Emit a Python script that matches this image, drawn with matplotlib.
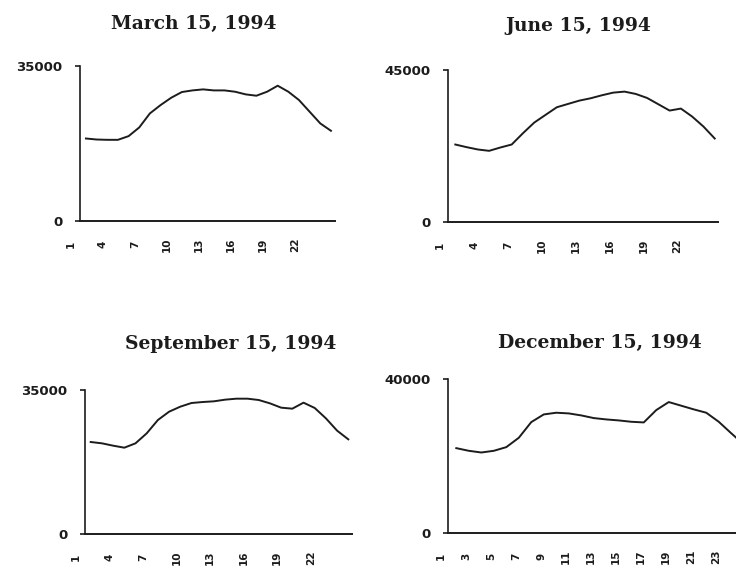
import matplotlib
matplotlib.use("Agg")
import matplotlib.pyplot as plt
import matplotlib.transforms as mtransforms

hours = list(range(1, 25))

titles = ["March 15, 1994", "June 15, 1994", "September 15, 1994", "December 15, 1994"]
ymax = [35000, 45000, 35000, 40000]

march = [18630, 18400, 18330, 18330, 19160, 21120, 24290, 26170, 27830, 29120,
         29490, 29720, 29490, 29490, 29190, 28590, 28290, 29190, 30550, 29190,
         27310, 24670, 22030, 20370]
june = [22940, 22160, 21470, 21070, 22060, 22940, 26290, 29440, 31710, 33970,
        34960, 35940, 36630, 37520, 38300, 38600, 37910, 36730, 34860, 32990,
        33580, 31210, 28260, 24720]
september = [22360, 22040, 21470, 20980, 22040, 24470, 27710, 29730, 30950, 31840,
             32080, 32250, 32650, 32890, 32890, 32570, 31760, 30710, 30460, 31920,
             30630, 28110, 25120, 23010]
december = [22040, 21350, 20910, 21350, 22300, 24730, 28810, 30800, 31240, 31060,
            30540, 29850, 29500, 29240, 28890, 28720, 31930, 34010, 33060, 32110,
            31240, 28890, 25900, 23000]
series = [march, june, september, december]

xticks_a = [1, 4, 7, 10, 13, 16, 19, 22]
xticks_b = [1, 3, 5, 7, 9, 11, 13, 15, 17, 19, 21, 23]
xtick_sets = [xticks_a, xticks_a, xticks_a, xticks_b]

W, H = 736, 570
fig = plt.figure(figsize=(W / 100, H / 100), dpi=100)
fig.patch.set_facecolor("white")

# pixel boxes: left, right, top, bottom
boxes = [(80, 335, 66, 221), (448, 718, 70, 222), (85, 352, 390, 534), (448, 748, 379, 533)]
xlims = [(0.44, 24.38), (0.353, 24.29), (0.49, 24.33), (0.336, 24.34)]
title_pos = [(194, 29), (578, 31), (231, 349), (600, 348)]

ink = "#1c1c1c"
for i in range(4):
    l, r, t, b = boxes[i]
    ax = fig.add_axes([l / W, 1 - b / H, (r - l) / W, (b - t) / H])
    ax.plot(hours, series[i], color=ink, lw=1.4, solid_joinstyle="round")
    ax.set_xlim(*xlims[i])
    ax.set_ylim(0, ymax[i])
    for s in ["top", "right"]:
        ax.spines[s].set_visible(False)
    ax.spines["left"].set_linewidth(1.2)
    ax.spines["bottom"].set_linewidth(1.4)
    ax.spines["left"].set_color(ink)
    ax.spines["bottom"].set_color(ink)
    ax.set_yticks([0, ymax[i]])
    ax.set_yticklabels(["0", str(ymax[i])])
    ax.tick_params(axis="y", length=3.6, width=1.2, color=ink, pad=9,
                   labelsize=9.5, labelcolor=ink)
    for lab in ax.get_yticklabels():
        lab.set_fontweight("bold")
        lab.set_fontfamily("DejaVu Sans")
    ax.set_xticks(xtick_sets[i])
    ax.set_xticklabels([str(v) for v in xtick_sets[i]])
    ax.tick_params(axis="x", length=0, pad=17, labelsize=7.5, labelcolor=ink)
    off = mtransforms.ScaledTranslation(-15 / 100, 0, fig.dpi_scale_trans)
    for lab in ax.get_xticklabels():
        lab.set_rotation(90)
        lab.set_va("center")
        lab.set_ha("center")
        lab.set_fontweight("bold")
        lab.set_transform(lab.get_transform() + off)
    tx, ty = title_pos[i]
    fig.text(tx / W, 1 - ty / H, titles[i], ha="center", va="baseline",
             fontsize=13.5, fontweight="bold", family="DejaVu Serif", color=ink)

fig.savefig("out.png", dpi=100, facecolor="white")
